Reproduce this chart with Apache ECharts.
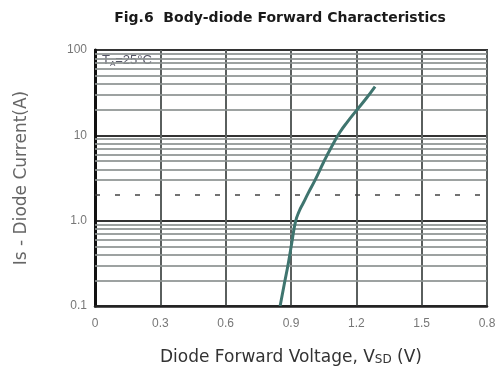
<!DOCTYPE html>
<html>
<head>
<meta charset="utf-8">
<script src="https://cdn.jsdelivr.net/npm/echarts@6/dist/echarts.min.js"></script>
<style>
html,body{margin:0;padding:0;background:#fff;}
#c{width:502px;height:371px;}
</style>
</head>
<body>
<div id="c"></div>
<script>
// Data
var voltage = [0.850, 0.869, 0.888, 0.904, 0.921, 0.937, 0.957, 0.979, 1.011, 1.049, 1.087, 1.126, 1.160, 1.200, 1.245, 1.286];
var current = [0.1, 0.18, 0.32, 0.56, 0.98, 1.28, 1.62, 2.1, 3.0, 4.8, 7.4, 11.0, 14.5, 19.5, 27, 37.3];
var xTickLabels = ['0', '0.3', '0.6', '0.9', '1.2', '1.5', '0.8'];
var yTickValues = [0.1, 1, 10, 100];
var yTickLabels = ['0.1', '1.0', '10', '100'];
var minorGrid = [0.2,0.3,0.4,0.5,0.6,0.7,0.8,0.9,2,3,4,5,6,7,8,9,20,30,40,50,60,70,80,90];
var dashedGrid = [2];

var chart = echarts.init(document.getElementById('c'), null, {renderer:'canvas'});
var pts = voltage.map(function(v,i){return [v, current[i]];});
var ml = minorGrid.map(function(v){
  var d = {yAxis: v};
  if (dashedGrid.indexOf(v) >= 0) d.lineStyle = {type:[5,15], color:'#444', width:1.5, opacity:1};
  return d;
});

chart.setOption({
  animation:false,
  title:{
    text:'Fig.6  Body-diode Forward Characteristics',
    left:275, top:6, textAlign:'center',
    textStyle:{fontFamily:'DejaVu Sans', fontWeight:'bold', fontSize:14, color:'#1a1a1a'}
  },
  grid:{left:95, right:15, top:50, bottom:64, show:true, borderColor:'#333', borderWidth:2, backgroundColor:'transparent'},
  xAxis:{
    type:'value', min:0, max:1.8, interval:0.3,
    axisLine:{show:true, onZero:false, lineStyle:{color:'#222', width:2.5}},
    axisTick:{show:false},
    splitLine:{show:true, lineStyle:{color:'#5a5f5e', width:2}},
    axisLabel:{margin:12, color:'#777', fontSize:12, fontFamily:'Liberation Sans',
      formatter:function(v){return xTickLabels[Math.round(v/0.3)];}},
    name:'Diode Forward Voltage, V{s|SD} (V)',
    nameLocation:'middle', nameGap:43,
    nameTextStyle:{fontSize:17, color:'#333', fontFamily:'DejaVu Sans',
      rich:{s:{fontSize:12, color:'#333', fontFamily:'DejaVu Sans', padding:[4,0,0,0]}}}
  },
  yAxis:{
    type:'log', logBase:10, min:0.1, max:100,
    axisLine:{show:true, lineStyle:{color:'#111', width:3}},
    axisTick:{show:false},
    splitLine:{show:true, lineStyle:{color:'#333', width:2}},
    axisLabel:{margin:8, color:'#777', fontSize:12, fontFamily:'Liberation Sans',
      formatter:function(v){
        for (var i=0;i<yTickValues.length;i++){ if (Math.abs(Math.log10(v)-Math.log10(yTickValues[i]))<1e-6) return yTickLabels[i]; }
        return '';
      }},
    name:'Is - Diode Current(A)',
    nameLocation:'middle', nameGap:65,
    nameTextStyle:{fontSize:17, color:'#666', fontFamily:'DejaVu Sans'}
  },
  series:[{
    type:'line', data:pts, smooth:0.5, showSymbol:false, symbol:'none',
    lineStyle:{color:'#3f756f', width:3},
    z:5,
    markLine:{
      silent:true, symbol:['none','none'], label:{show:false},
      lineStyle:{color:'#8c9291', width:2, type:'solid', opacity:0.85},
      data: ml, z:1
    }
  }],
  graphic:[{
    type:'group', left:97, top:52, z:10,
    children:[
      {type:'rect', shape:{x:0,y:0,width:66,height:18}, style:{fill:'#fff'}},
      {type:'text', left:5, top:2, style:{
        text:'T{a|A}=25°C',
        fontSize:13, fill:'#556', fontFamily:'Liberation Sans',
        rich:{a:{fontSize:8, fill:'#556', fontFamily:'Liberation Sans', padding:[6,0,0,0]}}
      }}
    ]
  }]
});
</script>
</body>
</html>
